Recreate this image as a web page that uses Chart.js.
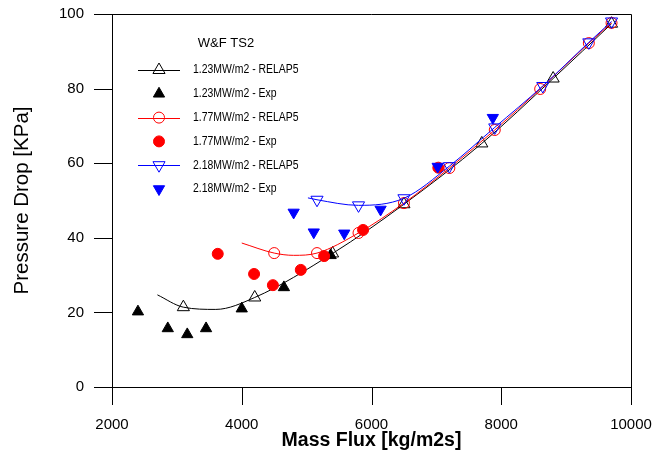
<!DOCTYPE html>
<html>
<head>
<meta charset="utf-8">
<script src="https://cdn.jsdelivr.net/npm/chart.js@4/dist/chart.umd.min.js"></script>
<style>
    html, body { margin: 0; padding: 0; background: #fff; }
    #wrap { width: 655px; height: 459px; }
</style>
</head>
<body>
<div id="wrap"><canvas id="grafico" width="655" height="459"></canvas></div>
<script>
// tick labels
const xTickLabels = [2000, 4000, 6000, 8000, 10000];
const yTickLabels = [0, 20, 40, 60, 80, 100];

// 1.23 MW/m2
const relap123X = [2700, 3100, 3600, 4200, 5400, 6500, 7700, 8800, 9700];
const relap123Y = [24.7, 21.4, 20.8, 24.0, 35.8, 49.0, 65.3, 82.7, 97.4];
const relap123Mark = [0, 1, 0, 1, 1, 1, 1, 1, 1];
const exp123X = [2400, 2860, 3160, 3450, 4000, 4650, 5370];
const exp123Y = [20.2, 15.7, 14.1, 15.7, 21.0, 26.7, 35.3];

// 1.77 MW/m2
const relap177X = [4000, 4500, 4800, 5160, 5800, 6500, 7200, 7900, 8600, 9350, 9700];
const relap177Y = [38.6, 35.9, 35.3, 35.9, 41.3, 49.3, 58.7, 68.9, 79.9, 92.2, 97.6];
const relap177Mark = [0, 1, 0, 1, 1, 1, 1, 1, 1, 1, 1];
const exp177X = [3630, 4190, 4480, 4910, 5270, 5870, 7030];
const exp177Y = [35.7, 30.3, 27.3, 31.4, 35.1, 42.1, 58.8];

// 2.18 MW/m2
const relap218X = [5020, 5160, 5800, 6500, 7200, 7900, 8640, 9350, 9700];
const relap218Y = [50.7, 50.2, 48.7, 50.6, 59.2, 69.6, 80.7, 92.4, 98.0];
const relap218Mark = [0, 1, 1, 1, 1, 1, 1, 1, 1];
const exp218X = [4800, 5110, 5580, 6140, 7020, 7870];
const exp218Y = [46.8, 41.5, 41.2, 47.6, 59.1, 72.2];

const legendTitle = 'W&F TS2';
const fonte = "'Liberation Sans', Arial, sans-serif";

function pontos(xs, ys) {
    return xs.map((x, i) => ({ x: x, y: ys[i] }));
}

function serieRelap(label, xs, ys, marks, cor, estilo, raio, rot, ordem) {
    return {
        label: label,
        data: pontos(xs, ys),
        showLine: true,
        borderColor: cor,
        borderWidth: 1,
        cubicInterpolationMode: 'monotone',
        pointStyle: estilo,
        rotation: rot,
        pointRadius: marks.map(m => m ? raio : 0),
        pointBorderColor: cor,
        pointBackgroundColor: 'rgba(0,0,0,0)',
        pointBorderWidth: 1,
        cheio: false,
        order: ordem,
    };
}

function serieExp(label, xs, ys, cor, estilo, raio, rot, ordem) {
    return {
        label: label,
        data: pontos(xs, ys),
        showLine: false,
        borderColor: cor,
        pointStyle: estilo,
        rotation: rot,
        pointRadius: raio,
        pointBorderColor: cor,
        pointBackgroundColor: cor,
        pointBorderWidth: 1,
        cheio: true,
        order: ordem,
    };
}

function marcador(ctx, estilo, r, x, y, rot, cor, cheio) {
    ctx.beginPath();
    if (estilo === 'circle') {
        ctx.arc(x, y, r, 0, Math.PI * 2);
    } else {
        let a = rot * Math.PI / 180;
        for (let i = 0; i < 3; i++) {
            const px = x + Math.sin(a) * r;
            const py = y - Math.cos(a) * r;
            if (i === 0) ctx.moveTo(px, py); else ctx.lineTo(px, py);
            a += 2 * Math.PI / 3;
        }
        ctx.closePath();
    }
    if (cheio) {
        ctx.fillStyle = cor;
        ctx.fill();
    }
    ctx.strokeStyle = cor;
    ctx.lineWidth = 1;
    ctx.stroke();
}

// no automatic label overflow padding: the plot box is fixed by layout.padding
function semPadding(s) {
    s.paddingLeft = 0;
    s.paddingRight = 0;
    s.paddingTop = 0;
    s.paddingBottom = 0;
}

// tick marks (major + minor) and the top/right frame
const eixos = {
    id: 'eixos',
    afterDraw(chart) {
        const { ctx, chartArea: a, scales: { x, y } } = chart;
        ctx.save();
        ctx.strokeStyle = '#000';
        ctx.lineWidth = 1;
        ctx.beginPath();
        x.ticks.forEach(t => {
            const px = Math.round(x.getPixelForValue(t.value)) + 0.5;
            const len = xTickLabels.includes(t.value) ? 18 : 9;
            ctx.moveTo(px, a.bottom);
            ctx.lineTo(px, a.bottom + len);
        });
        y.ticks.forEach(t => {
            const py = Math.round(y.getPixelForValue(t.value)) + 0.5;
            const len = yTickLabels.includes(t.value) ? 18 : 9;
            ctx.moveTo(a.left - len, py);
            ctx.lineTo(a.left, py);
        });
        ctx.moveTo(Math.round(a.left), Math.round(a.top) + 0.5);
        ctx.lineTo(Math.round(a.right) + 0.5, Math.round(a.top) + 0.5);
        ctx.lineTo(Math.round(a.right) + 0.5, Math.round(a.bottom));
        ctx.stroke();
        ctx.restore();
    }
};

// legend inside the plot, top-left
const legenda = {
    id: 'legenda',
    afterDraw(chart) {
        const ctx = chart.ctx;
        ctx.save();
        ctx.fillStyle = '#000';
        ctx.font = '13px ' + fonte;
        ctx.textBaseline = 'middle';
        ctx.textAlign = 'center';
        ctx.fillText(legendTitle, 226, 43);
        ctx.font = '12px ' + fonte;
        ctx.textAlign = 'left';
        chart.data.datasets.forEach((ds, k) => {
            const yy = 70 + k * 23.8;
            if (ds.showLine) {
                ctx.beginPath();
                ctx.strokeStyle = ds.borderColor;
                ctx.lineWidth = 1;
                ctx.moveTo(138, Math.round(yy) + 0.5);
                ctx.lineTo(180, Math.round(yy) + 0.5);
                ctx.stroke();
            }
            const r = Array.isArray(ds.pointRadius) ? Math.max(...ds.pointRadius) : ds.pointRadius;
            marcador(ctx, ds.pointStyle, r, 159, yy, ds.rotation, ds.borderColor, ds.cheio);
            // the original legend font is a little narrower
            ctx.save();
            ctx.translate(193, yy);
            ctx.scale(0.87, 1);
            ctx.fillStyle = '#000';
            ctx.fillText(ds.label, 0, 0);
            ctx.restore();
        });
        ctx.restore();
    }
};

new Chart(document.getElementById('grafico'), {
    type: 'line',
    data: {
        datasets: [
            serieRelap('1.23MW/m2 - RELAP5', relap123X, relap123Y, relap123Mark, '#000000', 'triangle', 7, 0, 3),
            serieExp('1.23MW/m2 - Exp', exp123X, exp123Y, '#000000', 'triangle', 6.5, 0, 3),
            serieRelap('1.77MW/m2 - RELAP5', relap177X, relap177Y, relap177Mark, '#ff0000', 'circle', 5.5, 0, 2),
            serieExp('1.77MW/m2 - Exp', exp177X, exp177Y, '#ff0000', 'circle', 5.5, 0, 2),
            serieRelap('2.18MW/m2 - RELAP5', relap218X, relap218Y, relap218Mark, '#0000ff', 'triangle', 7, 180, 1),
            serieExp('2.18MW/m2 - Exp', exp218X, exp218Y, '#0000ff', 'triangle', 6.5, 180, 1),
        ],
    },
    options: {
        responsive: false,
        animation: false,
        devicePixelRatio: 1,
        layout: { padding: { left: 0, right: 24, top: 14, bottom: 0 } },
        plugins: { legend: { display: false }, tooltip: { enabled: false } },
        scales: {
            x: {
                type: 'linear',
                min: 2000,
                max: 10000,
                afterFit(s) { s.height = 72; semPadding(s); },
                ticks: {
                    stepSize: 1000,
                    autoSkip: false,
                    maxRotation: 0,
                    padding: 29,
                    color: '#000',
                    font: { family: fonte, size: 15 },
                    callback: v => xTickLabels.includes(v) ? String(v) : null,
                },
                grid: { drawOnChartArea: false, drawTicks: false },
                border: { color: '#000', width: 1 },
                title: {
                    display: true,
                    text: 'Mass Flux [kg/m2s]',
                    color: '#000',
                    font: { family: fonte, size: 19.5, weight: 'bold' },
                    padding: { top: 0, bottom: 7 },
                },
            },
            y: {
                type: 'linear',
                min: 0,
                max: 100,
                afterFit(s) { s.width = 112; semPadding(s); },
                ticks: {
                    stepSize: 10,
                    autoSkip: false,
                    padding: 28,
                    color: '#000',
                    font: { family: fonte, size: 15 },
                    callback: v => yTickLabels.includes(v) ? String(v) : null,
                },
                grid: { drawOnChartArea: false, drawTicks: false },
                border: { color: '#000', width: 1 },
                title: {
                    display: true,
                    text: 'Pressure Drop [KPa]',
                    color: '#000',
                    font: { family: fonte, size: 20.5 },
                    padding: { top: 10, bottom: 0 },
                },
            },
        },
    },
    plugins: [eixos, legenda],
});
</script>
</body>
</html>
